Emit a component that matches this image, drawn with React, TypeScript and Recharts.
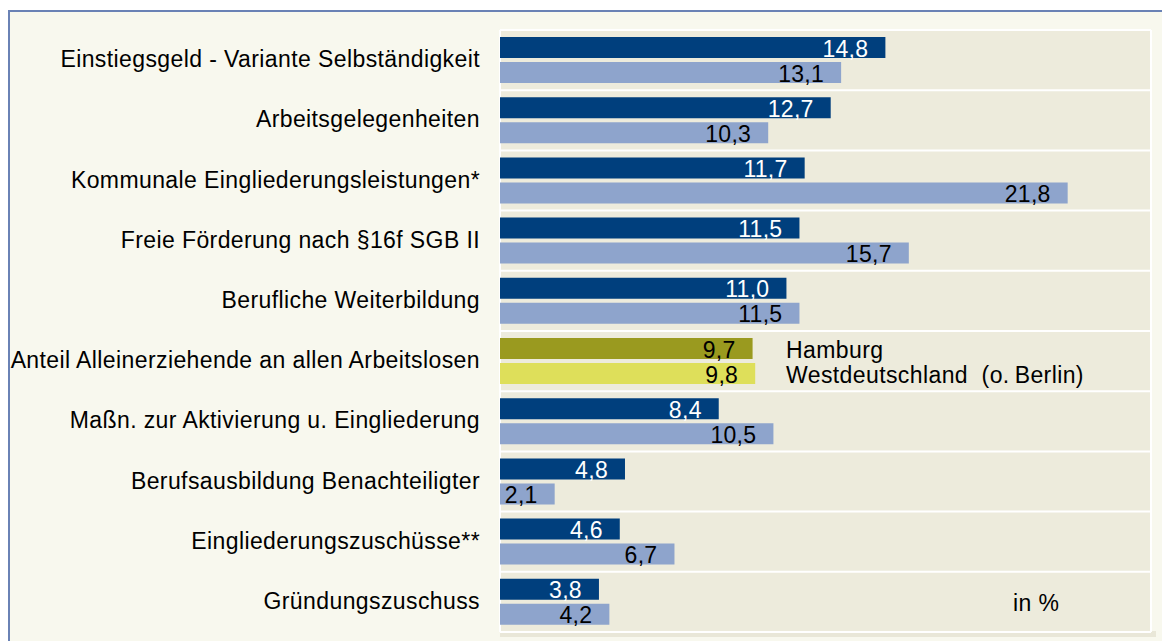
import React from 'react';
import { BarChart, Bar, XAxis, YAxis, CartesianGrid, Cell, LabelList } from 'recharts';

const categories = [
    'Einstiegsgeld - Variante Selbständigkeit',
    'Arbeitsgelegenheiten',
    'Kommunale Eingliederungsleistungen*',
    'Freie Förderung nach §16f SGB II',
    'Berufliche Weiterbildung',
    'Anteil Alleinerziehende an allen Arbeitslosen',
    'Maßn. zur Aktivierung u. Eingliederung',
    'Berufsausbildung Benachteiligter',
    'Eingliederungszuschüsse**',
    'Gründungszuschuss',
];
const hamburg = [14.8, 12.7, 11.7, 11.5, 11.0, 9.7, 8.4, 4.8, 4.6, 3.8];
const westdeutschland = [13.1, 10.3, 21.8, 15.7, 11.5, 9.8, 10.5, 2.1, 6.7, 4.2];
const xTicks = [0, 5, 10, 15, 20, 25];
const highlightIndex = 5;

const data = categories.map((name, i) => ({ name, hh: hamburg[i], wd: westdeutschland[i] }));

const FONT = '"Liberation Sans", Arial, sans-serif';
const fmt = (v: number) => v.toFixed(1).replace('.', ',');

const makeLabel = (dark: boolean) => (props: any) => {
    const { x, y, width, height, value, index } = props;
    const white = dark && index !== highlightIndex;
    return (
        <text
            x={x + width - 17}
            y={y + height / 2 + 1}
            textAnchor="end"
            dominantBaseline="central"
            fontSize={23}
            letterSpacing={0.3}
            fontFamily={FONT}
            fill={white ? '#ffffff' : '#000000'}
        >
            {fmt(value)}
        </text>
    );
};

const CategoryTick = (props: any) => {
    const { x, y, payload } = props;
    return (
        <text x={x} y={y - 1} textAnchor="end" dominantBaseline="central" fontSize={23} letterSpacing={0.4} fontFamily={FONT} fill="#000000">
            {payload.value}
        </text>
    );
};

export default function App() {
    return (
        <div style={{ position: 'fixed', left: 0, top: 0, width: 1162, height: 641, background: '#ffffff', overflow: 'hidden', fontFamily: FONT }}>
            <div style={{ position: 'absolute', left: 8, top: 10, width: 1200, height: 700, borderTop: '2px solid #6A82B5', borderLeft: '2px solid #6A82B5', background: '#F8F8EE' }} />
            <div style={{ position: 'absolute', left: 500, top: 631, width: 656, height: 6, background: '#E9E7D8' }} />
            <div style={{ position: 'absolute', left: 0, top: 0 }}>
                <BarChart
                    width={1162}
                    height={641}
                    data={data}
                    layout="vertical"
                    margin={{ top: 30, right: 11, bottom: 9, left: 0 }}
                    barCategoryGap={6}
                    barGap={4}
                    barSize={21}
                >
                    <CartesianGrid
                        fill="#EDEBDC"
                        stroke="#ffffff"
                        strokeWidth={2}
                        horizontalCoordinatesGenerator={({ offset }: any) =>
                            categories.map((_, i) => offset.top + (i * offset.height) / categories.length).concat(offset.top + offset.height)
                        }
                    />
                    <XAxis type="number" domain={[0, 25]} ticks={xTicks} tick={false} axisLine={false} tickLine={false} height={0} />
                    <YAxis
                        type="category"
                        dataKey="name"
                        width={500}
                        axisLine={false}
                        tickLine={false}
                        tickSize={0}
                        tickMargin={20}
                        interval={0}
                        tick={<CategoryTick />}
                    />
                    <Bar dataKey="hh" isAnimationActive={false}>
                        {data.map((_, i) => (
                            <Cell key={`hh-${i}`} fill={i === highlightIndex ? '#9A9A1F' : '#003F7D'} />
                        ))}
                        <LabelList dataKey="hh" content={makeLabel(true)} />
                    </Bar>
                    <Bar dataKey="wd" isAnimationActive={false}>
                        {data.map((_, i) => (
                            <Cell key={`wd-${i}`} fill={i === highlightIndex ? '#DEDF5A' : '#8EA4CC'} />
                        ))}
                        <LabelList dataKey="wd" content={makeLabel(false)} />
                    </Bar>
                </BarChart>
            </div>
            <div style={{ position: 'absolute', left: 786, top: 338, fontSize: 23, letterSpacing: 0.4, lineHeight: '25px', color: '#000' }}>
                Hamburg
                <br />
                Westdeutschland&nbsp;&nbsp;(o.&#8201;Berlin)
            </div>
            <div style={{ position: 'absolute', left: 1013, top: 590, fontSize: 23, letterSpacing: 0.4, color: '#000' }}>in %</div>
        </div>
    );
}
